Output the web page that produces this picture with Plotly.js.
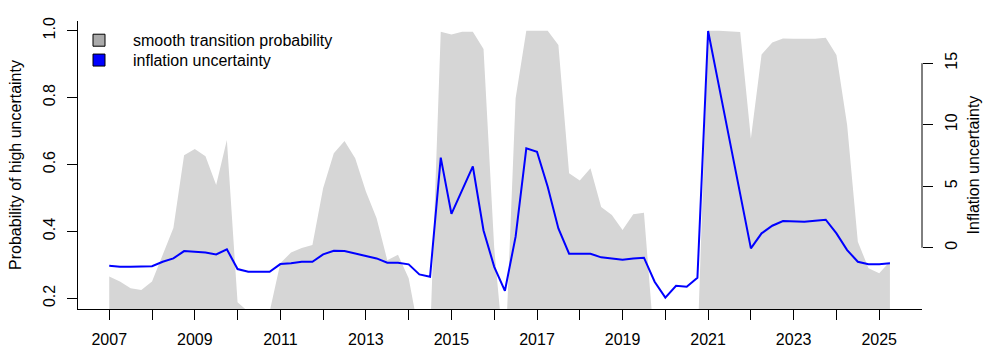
<!DOCTYPE html>
<html>
<head>
<meta charset="utf-8">
<script src="https://cdn.plot.ly/plotly-3.0.1.min.js"></script>
<style>
  html, body { margin: 0; padding: 0; background: #fff; }
  #plot { width: 1000px; height: 350px; }
</style>
</head>
<body>
<div id="plot"></div>
<script>
// quarterly observations, 2007Q1 .. 2025Q2
const startYear = 2007;
const nQuarters = 74;

// smooth transition probability (left axis)
const probHigh = [
  0.265, 0.25, 0.23, 0.225, 0.25, 0.33, 0.41, 0.628,
  0.646, 0.625, 0.539, 0.673, 0.188, 0.16, 0.12, 0.16,
  0.305, 0.337, 0.35, 0.359, 0.529, 0.634, 0.67, 0.619,
  0.519, 0.439, 0.314, 0.33, 0.26, 0.09, 0.08, 0.997,
  0.989, 0.997, 0.997, 0.945, 0.35, 0.0, 0.798, 1.0,
  1.0, 1.0, 0.957, 0.574, 0.552, 0.589, 0.473, 0.449,
  0.404, 0.451, 0.456, 0.05, 0.0, 0.0, 0.0, 0.05,
  1.0, 1.0, 0.998, 0.996, 0.678, 0.929, 0.965, 0.977,
  0.976, 0.976, 0.976, 0.979, 0.927, 0.718, 0.369, 0.29,
  0.275, 0.31
];

// inflation uncertainty (right axis)
const inflUnc = [
  -1.46, -1.54, -1.54, -1.54, -1.5, -1.14, -0.87, -0.27,
  -0.33, -0.38, -0.54, -0.13, -1.73, -1.95, -1.95, -1.95,
  -1.33, -1.27, -1.14, -1.14, -0.54, -0.24, -0.27, -0.46,
  -0.65, -0.87, -1.22, -1.22, -1.35, -2.17, -2.36, 7.32,
  2.75, 4.64, 6.62, 1.4, -1.55, -3.5, 0.9, 8.08,
  7.8, 4.96, 1.57, -0.49, -0.49, -0.49, -0.78, -0.87,
  -0.97, -0.87, -0.81, -2.76, -4.06, -3.09, -3.17, -2.44,
  17.62, 13.2, 8.78, 4.37, -0.05, 1.17, 1.79, 2.17,
  2.11, 2.11, 2.2, 2.28, 1.17, -0.19, -1.14, -1.35,
  -1.35, -1.27
];

const yearTicks = [2007, 2008, 2009, 2010, 2011, 2012, 2013, 2014, 2015, 2016,
  2017, 2018, 2019, 2020, 2021, 2022, 2023, 2024, 2025];
const yearLabels = ["2007", "", "2009", "", "2011", "", "2013", "", "2015", "",
  "2017", "", "2019", "", "2021", "", "2023", "", "2025"];
const probTicks = [0.2, 0.4, 0.6, 0.8, 1.0];
const probLabels = ["0.2", "0.4", "0.6", "0.8", "1.0"];
const uncTicks = [0, 5, 10, 15];

const time = [];
for (let i = 0; i < nQuarters; i++) time.push(startYear + i * 0.25);

const font = { family: "Liberation Sans, Arial, sans-serif", size: 16, color: "#000" };

const probTrace = {
  x: time,
  y: probHigh,
  type: "scatter",
  mode: "lines",
  fill: "tozeroy",
  fillcolor: "#d6d6d6",
  line: { width: 0, color: "#d6d6d6" },
  showlegend: false,
  hoverinfo: "skip",
};

const uncTrace = {
  x: time,
  y: inflUnc,
  yaxis: "y2",
  type: "scatter",
  mode: "lines",
  line: { color: "#0000ff", width: 2 },
  showlegend: false,
};

// legend entries (filled boxes like base R legend), one legend per row
const legProb = {
  x: [null], y: [null], type: "bar",
  name: "smooth transition probability",
  legend: "legend",
  marker: { color: "#aaaaaa", line: { color: "#000", width: 1 } },
};
const legUnc = {
  x: [null], y: [null], type: "bar",
  name: "inflation uncertainty",
  legend: "legend2",
  marker: { color: "#0000ff", line: { color: "#000", width: 1 } },
};

const legendBase = {
  x: -0.0154, xanchor: "left", yanchor: "top",
  bgcolor: "rgba(0,0,0,0)", font: font, itemwidth: 58,
};

const layout = {
  width: 1000,
  height: 350,
  margin: { l: 78, r: 78, t: 21, b: 41 },
  paper_bgcolor: "#fff",
  plot_bgcolor: "#fff",
  font: font,
  showlegend: true,
  legend: Object.assign({}, legendBase, { y: 0.992 }),
  legend2: Object.assign({}, legendBase, { y: 0.923 }),
  xaxis: {
    range: [2006.27, 2026.0],
    tickvals: yearTicks,
    ticktext: yearLabels,
    ticks: "outside", ticklen: 10, tickcolor: "#000",
    ticklabelstandoff: 6,
    showline: true, linecolor: "#000", linewidth: 1,
    showgrid: false, zeroline: false,
    tickfont: font,
  },
  yaxis: {
    range: [0.168, 1.029],
    tickvals: probTicks,
    ticktext: probLabels,
    tickangle: -90,
    ticks: "outside", ticklen: 10, tickcolor: "#000",
    ticklabelstandoff: 6,
    showline: true, linecolor: "#000", linewidth: 1,
    showgrid: false, zeroline: false,
    tickfont: font,
    title: { text: "Probability of high uncertainty", font: font, standoff: 14 },
  },
  yaxis2: {
    overlaying: "y",
    side: "right",
    range: [-4.98, 18.43],
    tickvals: uncTicks,
    tickangle: -90,
    ticks: "outside", ticklen: 10, tickcolor: "#000",
    ticklabelstandoff: 5,
    showline: false, showgrid: false, zeroline: false,
    tickfont: font,
    title: { text: "Inflation uncertainty", font: font, standoff: 8 },
  },
  shapes: [
    // right axis line only spans the tick range 0..15
    { type: "line", xref: "paper", yref: "y2", x0: 1, x1: 1, y0: 0, y1: 15,
      line: { color: "#000", width: 1 } },
  ],
};

Plotly.newPlot("plot", [probTrace, uncTrace, legProb, legUnc], layout, { displayModeBar: false, staticPlot: true });
</script>
</body>
</html>
